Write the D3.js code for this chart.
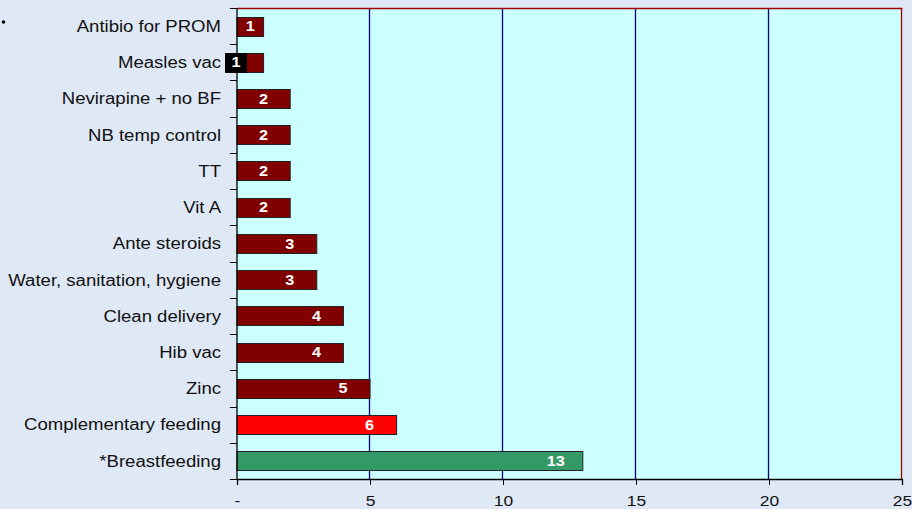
<!DOCTYPE html>
<html><head><meta charset="utf-8">
<script src="https://cdn.jsdelivr.net/npm/d3@7"></script>
<style>
html,body{margin:0;padding:0;background:#dfe8f5;}
svg{display:block;font-family:"Liberation Sans",Arial,sans-serif;}
</style></head>
<body>
<svg id="c" width="912" height="509"></svg>
<script>
const categories = ["Antibio for PROM","Measles vac","Nevirapine + no BF","NB temp control","TT","Vit A","Ante steroids","Water, sanitation, hygiene","Clean delivery","Hib vac","Zinc","Complementary feeding","*Breastfeeding"];
const values = [1,1,2,2,2,2,3,3,4,4,5,6,13];
const barColors = ["#800000","#800000","#800000","#800000","#800000","#800000","#800000","#800000","#800000","#800000","#800000","#ff0000","#339966"];
const xTicks = [0,5,10,15,20,25];
const xTickLabels = ["-","5","10","15","20","25"];

const svg = d3.select("#c");
const m = {l:237, t:8, r:902, b:479};
const x = d3.scaleLinear().domain([0,25]).range([m.l, m.r]);
const y = d3.scaleBand().domain(categories).range([m.t, m.b]).paddingInner(0.47).paddingOuter(0.235);
const yb = d3.scaleBand().domain(categories).range([m.t, m.b]);
const SX = 1.16;

svg.append("rect").attr("x",m.l).attr("y",m.t).attr("width",m.r-m.l).attr("height",m.b-m.t).attr("fill","#ccffff");

// gridlines
svg.append("g").selectAll("line").data(xTicks.filter(d=>d>0 && d<25)).join("line")
  .attr("x1",d=>Math.round(x(d))-0.5).attr("x2",d=>Math.round(x(d))-0.5).attr("y1",m.t).attr("y2",m.b)
  .attr("stroke","#000080").attr("stroke-width",1.3);

// top & right borders
svg.append("line").attr("x1",m.l).attr("x2",m.r+0.5).attr("y1",m.t+0.5).attr("y2",m.t+0.5).attr("stroke","#a00000").attr("stroke-width",1.3);
svg.append("line").attr("x1",m.r-0.5).attr("x2",m.r-0.5).attr("y1",m.t).attr("y2",m.b).attr("stroke","#a00000").attr("stroke-width",1.3);

// bars
svg.append("g").selectAll("rect").data(values).join("rect")
  .attr("x",x(0)).attr("y",(d,i)=>Math.round(y(categories[i]))+0.5)
  .attr("width",d=>x(d)-x(0)).attr("height",Math.round(y.bandwidth()))
  .attr("fill",(d,i)=>barColors[i]).attr("stroke","#222").attr("stroke-width",1);

// bottom axis
const xAxis = d3.axisBottom(x).tickValues(xTicks).tickFormat((d,i)=>xTickLabels[i]).tickSizeOuter(0).tickSize(6).tickPadding(11);
const gx = svg.append("g").attr("transform",`translate(0,${m.b})`).call(xAxis);
gx.select(".domain").attr("stroke","#000").attr("stroke-width",1.3);
gx.selectAll(".tick line").attr("stroke","#000");
gx.selectAll(".tick text").each(function(){
  const t = d3.select(this);
  t.attr("font-size",15).attr("fill","#111").attr("font-family","Liberation Sans, Arial, sans-serif")
   .attr("dy",null).attr("y",null).attr("transform",`translate(0,${26.5}) scale(${SX},1)`);
});

// left axis line + ticks at band boundaries
svg.append("line").attr("x1",m.l).attr("x2",m.l).attr("y1",m.t).attr("y2",m.b).attr("stroke","#000").attr("stroke-width",1.3);
const bounds = categories.map(c=>yb(c)).concat([m.b]);
svg.append("g").selectAll("line").data(bounds).join("line")
  .attr("x1",m.l-7).attr("x2",m.l).attr("y1",d=>Math.round(d)+0.5).attr("y2",d=>Math.round(d)+0.5).attr("stroke","#000");

// category labels
svg.append("g").selectAll("text").data(categories).join("text")
  .attr("transform",d=>`translate(221,${yb(d)+yb.bandwidth()/2}) scale(${SX},1)`)
  .attr("dy","0.36em")
  .attr("text-anchor","end").attr("font-size",16).attr("fill","#111").text(d=>d);

// value labels
const lab = svg.append("g");
values.forEach((v,i)=>{
  const c = categories[i];
  const cy = y(c)+y.bandwidth()/2;
  let cx = Math.max((x(0)+x(v))/2, x(v)-27);
  if (c === "Measles vac") {
    cx = 236;
    lab.append("rect").attr("x",cx-11).attr("y",Math.round(y(c))).attr("width",22).attr("height",Math.round(y.bandwidth())+1).attr("fill","#000");
  }
  lab.append("text").attr("transform",`translate(${cx},${cy}) scale(${SX},1)`).attr("dy","0.36em").attr("text-anchor","middle")
    .attr("font-size",14).attr("font-weight","bold").attr("fill","#fff").text(v);
});

// bullet dot
svg.append("circle").attr("cx",3.5).attr("cy",22).attr("r",1.8).attr("fill","#000");
</script>
</body></html>
